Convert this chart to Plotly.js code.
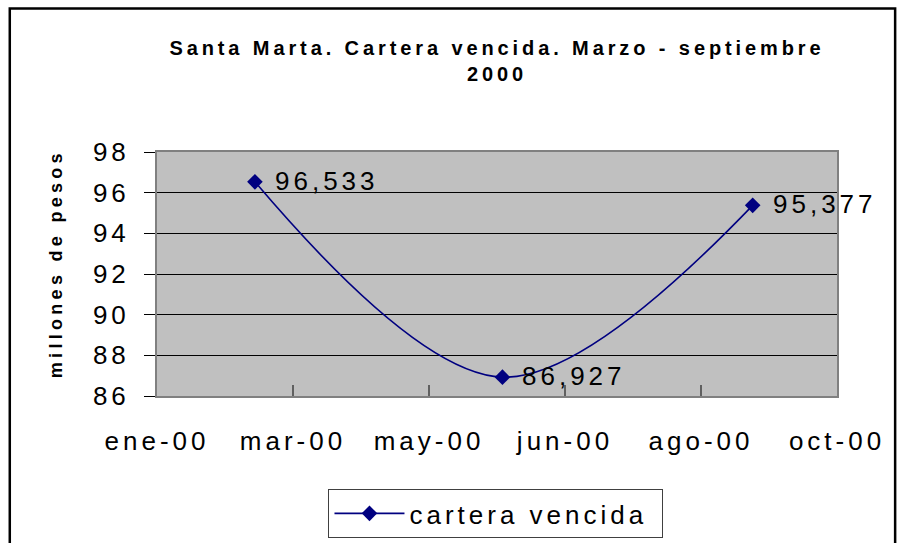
<!DOCTYPE html>
<html>
<head>
<meta charset="utf-8">
<script src="https://cdn.plot.ly/plotly-3.0.1.min.js"></script>
<style>
  html, body { margin: 0; padding: 0; background: #fff; }
  #chart { width: 907px; height: 543px; }
  #chart .xtick text, #chart .ytick text, #chart .annotation-text, #chart .legendtext { letter-spacing: 4px; }
  #chart .gtitle { letter-spacing: 3.9px; }
  #chart .annotation.ytitle-ann .annotation-text { letter-spacing: 4.3px; }
</style>
</head>
<body>
<div id="chart"></div>
<script>
// ---- data ----
const tickPositions = [0, 1, 2, 3, 4, 5];
const tickLabels = ['ene-00', 'mar-00', 'may-00', 'jun-00', 'ago-00', 'oct-00'];
const pointPositions = [0.72, 2.54, 4.38];       // marzo, junio, septiembre 2000
const carteraVencida = [96.533, 86.927, 95.377];  // millones de pesos
const pointLabels = ['96,533', '86,927', '95,377'];
const seriesName = 'cartera vencida';
const chartTitle = 'Santa Marta. Cartera vencida. Marzo - septiembre<br>2000';
const yTitle = 'millones de pesos';

const FONT = 'Arial, "Liberation Sans", sans-serif';

const trace = {
  x: pointPositions,
  y: carteraVencida,
  name: seriesName,
  type: 'scatter',
  mode: 'lines+markers',
  cliponaxis: false,
  line: { color: '#000080', width: 1.6, shape: 'spline', smoothing: 1 },
  marker: { symbol: 'diamond', size: 12, color: '#000080' }
};

const labelAnnotations = pointPositions.map((xv, i) => ({
  x: xv,
  y: carteraVencida[i],
  xref: 'x', yref: 'y',
  text: pointLabels[i],
  showarrow: false,
  xanchor: 'left',
  yanchor: 'middle',
  align: 'left',
  xshift: 19,
  yshift: 1,
  borderpad: 0,
  font: { family: FONT, size: 26, color: '#000' }
}));

const yTitleAnnotation = {
  xref: 'paper', yref: 'paper',
  x: -0.149, y: 0.541,
  text: yTitle,
  textangle: -90,
  showarrow: false,
  xanchor: 'center', yanchor: 'middle',
  font: { family: FONT, size: 18, color: '#000', weight: 'bold' }
};

const layout = {
  width: 907,
  height: 543,
  paper_bgcolor: '#ffffff',
  plot_bgcolor: '#c0c0c0',
  margin: { l: 157, r: 70, t: 152, b: 147, pad: 0, autoexpand: false },
  showlegend: true,
  title: {
    text: chartTitle,
    font: { family: FONT, size: 20, color: '#000', weight: 'bold' },
    x: 0.5, xref: 'paper', xanchor: 'center',
    y: 1 - 55 / 543, yref: 'container', yanchor: 'middle'
  },
  xaxis: {
    type: 'linear',
    range: [0, 5],
    tickmode: 'array',
    tickvals: tickPositions,
    ticktext: tickLabels,
    ticks: 'inside',
    ticklen: 11,
    tickcolor: '#606060',
    tickwidth: 1.5,
    showgrid: false,
    zeroline: false,
    showline: true,
    linecolor: '#808080',
    linewidth: 2,
    mirror: true,
    ticklabelstandoff: 21,
    tickfont: { family: FONT, size: 26, color: '#000' },
    automargin: false,
    fixedrange: true
  },
  yaxis: {
    range: [86, 98],
    tickmode: 'linear',
    tick0: 86,
    dtick: 2,
    ticks: 'outside',
    ticklen: 11,
    tickcolor: '#000',
    tickwidth: 1,
    showgrid: true,
    gridcolor: '#000',
    gridwidth: 1,
    zeroline: false,
    showline: true,
    linecolor: '#808080',
    linewidth: 2,
    mirror: true,
    ticklabelstandoff: 9,
    tickfont: { family: FONT, size: 26, color: '#000' },
    automargin: false,
    fixedrange: true
  },
  legend: {
    orientation: 'h',
    x: 0.4985, xanchor: 'center',
    y: -0.381, yanchor: 'top',
    bgcolor: '#ffffff',
    bordercolor: '#404040',
    borderwidth: 1,
    itemwidth: 70,
    entrywidth: 248,
    entrywidthmode: 'pixels',
    font: { family: FONT, size: 26, color: '#000' }
  },
  annotations: labelAnnotations.concat([yTitleAnnotation]),
  shapes: [{
    type: 'rect', xref: 'paper', yref: 'paper',
    x0: -0.2165, x1: 1.0855, y0: 1.5885, y1: -0.75,
    line: { color: '#000', width: 2.5 },
    fillcolor: 'rgba(0,0,0,0)',
    layer: 'below'
  }]
};

Plotly.newPlot('chart', [trace], layout, { displayModeBar: false, staticPlot: true }).then(() => {
  // mark the y-title annotation so its letter-spacing can differ slightly
  const anns = document.querySelectorAll('#chart .annotation');
  if (anns.length) anns[anns.length - 1].classList.add('ytitle-ann');
});
</script>
</body>
</html>
